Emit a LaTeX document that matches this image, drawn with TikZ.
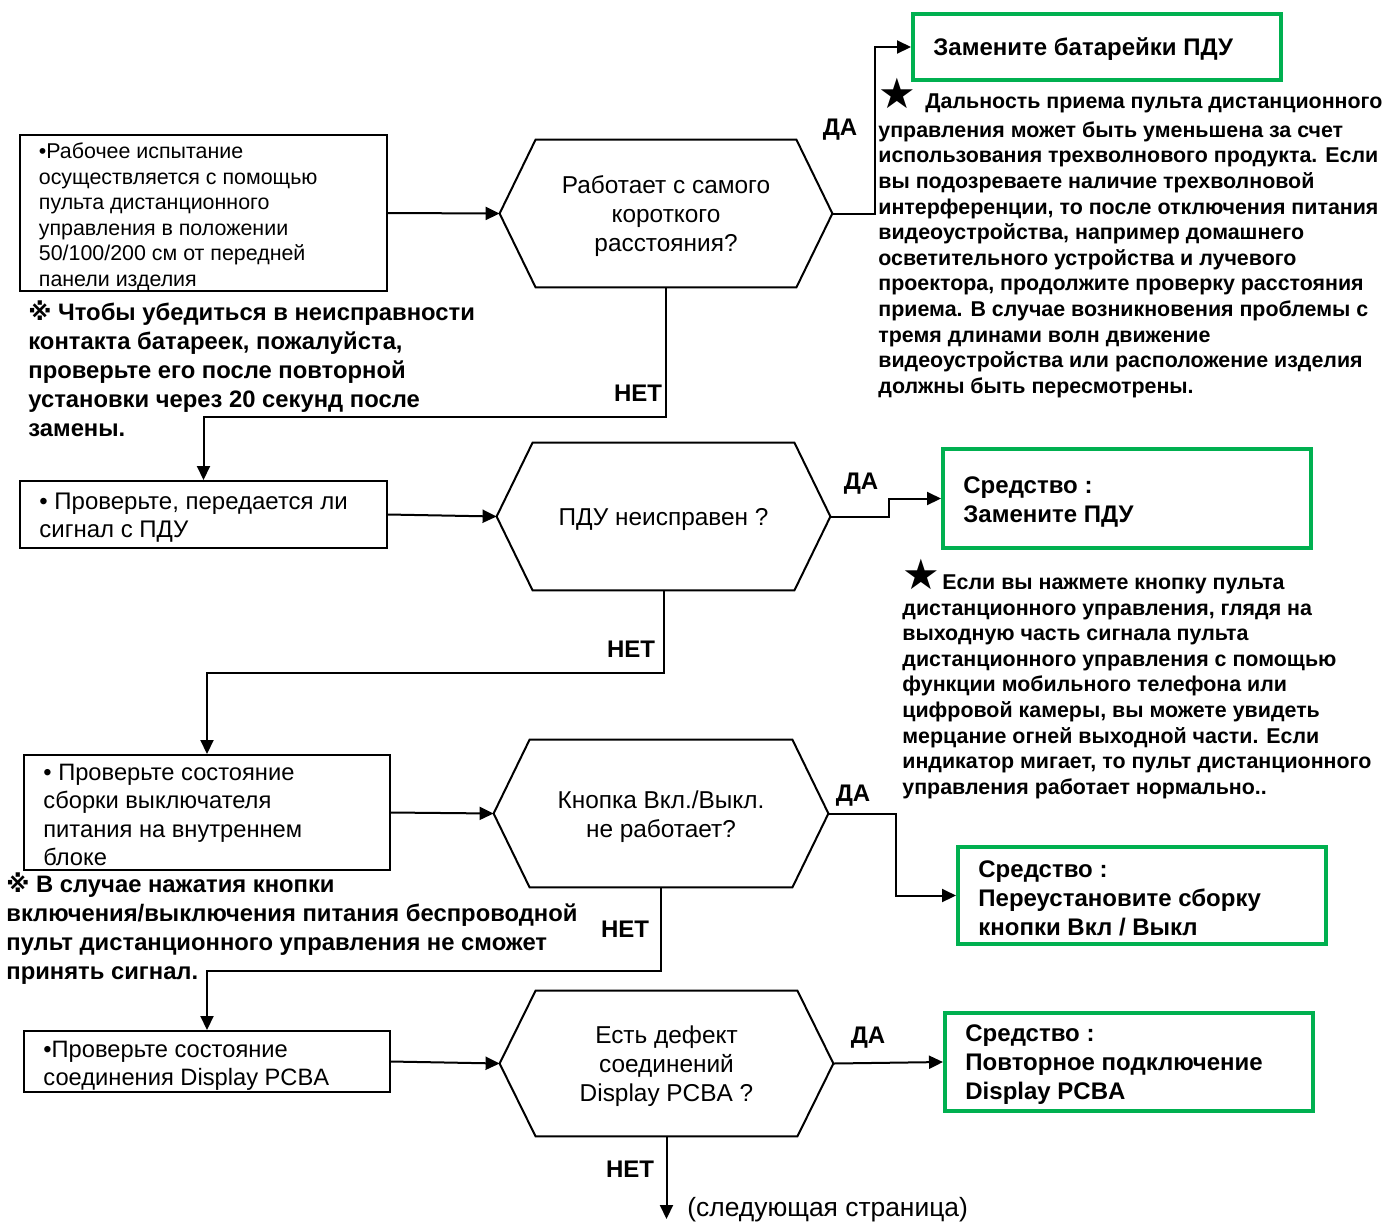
\documentclass[tikz,border=0pt]{standalone}
\usepackage{fontspec}
\setmainfont{Liberation Sans}
\newfontfamily\dejavu{DejaVu Sans}
\usetikzlibrary{arrows.meta,calc}
\definecolor{grn}{RGB}{0,176,80}
\newcommand{\hexpath}[1]{\draw[ln] (#1.west) -- ([xshift=18pt]#1.north west) -- ([xshift=-18pt]#1.north east) -- (#1.east) -- ([xshift=-18pt]#1.south east) -- ([xshift=18pt]#1.south west) -- cycle;}
\newcommand{\mystar}{{\dejavu\fontsize{21}{21}\selectfont ★}}
\newcommand{\komemark}{{\dejavu ※}}
\tikzset{
  ln/.style={line width=1pt, black, line join=miter},
  arr/.style={ln, -{Triangle[length=7pt,width=6.5pt]}},
  boxA/.style={draw, line width=1pt, inner sep=0pt},
  btxt/.style={inner sep=0pt, anchor=west, align=left},
  greenbox/.style={draw=grn, line width=2pt, inner sep=0pt, minimum width=184pt},
  gtxt/.style={inner sep=0pt, anchor=west, align=left, font=\bfseries\fontsize{12}{14.5}\selectfont},
  hexn/.style={inner sep=0pt},
  htxt/.style={inner sep=0pt, align=center, font=\fontsize{12.2}{14.5}\selectfont},
  lbl/.style={inner sep=0pt, font=\bfseries\fontsize{12}{14}\selectfont},
  bnote/.style={inner sep=0pt, align=left, anchor=west, font=\bfseries\fontsize{11.9}{14.5}\selectfont},
  snote/.style={inner sep=0pt, align=left, anchor=west, font=\bfseries\fontsize{10.7}{12.8}\selectfont},
}
\begin{document}
\begin{tikzpicture}[x=0.5pt,y=-0.5pt]
\useasboundingbox (0,0) rectangle (1386,1222);

% boxes
\node[boxA, minimum width=183.5pt, minimum height=78pt] (b1) at (203.5,213) {};
\node[btxt, font=\fontsize{10.7}{12.75}\selectfont] (b1t) at ($(b1.west)+(19.5,4)$) {•Рабочее испытание\\осуществляется с помощью\\пульта дистанционного\\управления в положении\\50/100/200 см от передней\\панели изделия};
\node[boxA, minimum width=183.5pt, minimum height=33.5pt] (b2) at (203.5,514.5) {};
\node[btxt, font=\fontsize{12}{14}\selectfont] (b2t) at ($(b2.west)+(20,3.5)$) {• Проверьте, передается ли\\сигнал с ПДУ};
\node[boxA, minimum width=183pt, minimum height=57.5pt] (b3) at (207,812.5) {};
\node[btxt, font=\fontsize{11.85}{14.3}\selectfont] (b3t) at ($(b3.west)+(20,2.5)$) {• Проверьте состояние\\сборки выключателя\\питания на внутреннем\\блоке};
\node[boxA, minimum width=183pt, minimum height=30.5pt] (b4) at (207,1061.5) {};
\node[btxt, font=\fontsize{11.85}{14}\selectfont] (b4t) at ($(b4.west)+(20,4)$) {•Проверьте состояние\\соединения Display PCBA};

% decisions
\node[hexn, minimum width=166pt, minimum height=73.5pt] (h1) at (666,213.5) {};
\node[htxt] (h1t) at ($(h1.center)+(0,3)$) {Работает с самого\\короткого\\расстояния?};
\node[hexn, minimum width=166.5pt, minimum height=73.5pt] (h2) at (663.5,516.5) {};
\node[htxt] (h2t) at ($(h2.center)+(0,3)$) {ПДУ неисправен ?};
\node[hexn, minimum width=167pt, minimum height=73.5pt] (h3) at (661,813.5) {};
\node[htxt] (h3t) at ($(h3.center)+(0,3)$) {Кнопка Вкл./Выкл.\\не работает?};
\node[hexn, minimum width=166.5pt, minimum height=72.5pt] (h4) at (666.5,1063.5) {};
\node[htxt] (h4t) at ($(h4.center)+(0,3)$) {Есть дефект\\соединений\\Display PCBA ?};
\hexpath{h1}
\hexpath{h2}
\hexpath{h3}
\hexpath{h4}

% remedies
\node[greenbox, minimum height=33pt] (g1) at (1097,47) {};
\node[gtxt] (g1t) at ($(g1.west)+(22,2)$) {Замените батарейки ПДУ};
\node[greenbox, minimum height=49.5pt] (g2) at (1127,498.5) {};
\node[gtxt] (g2t) at ($(g2.west)+(22,3)$) {Средство :\\Замените ПДУ};
\node[greenbox, minimum height=48.5pt] (g3) at (1142,895.5) {};
\node[gtxt] (g3t) at ($(g3.west)+(22,3)$) {Средство :\\Переустановите сборку\\кнопки Вкл / Выкл};
\node[greenbox, minimum height=49pt] (g4) at (1129,1062) {};
\node[gtxt] (g4t) at ($(g4.west)+(22,3)$) {Средство :\\Повторное подключение\\Display PCBA};

% notes
\node[bnote] (n1) at (28,369) {\komemark{} Чтобы убедиться в неисправности\\контакта батареек, пожалуйста,\\проверьте его после повторной\\установки через 20 секунд после\\замены.};
\node[bnote] (n3) at (6,928.5) {\komemark{} В случае нажатия кнопки\\включения/выключения питания беспроводной\\пульт дистанционного управления не сможет\\принять сигнал.};
\node[snote] (s1) at (878,238) {\makebox[23.5pt][l]{\mystar}Дальность приема пульта дистанционного\\[1.5pt]управления может быть уменьшена за счет\\использования трехволнового продукта. Если\\вы подозреваете наличие трехволновой\\интерференции, то после отключения питания\\видеоустройства, например домашнего\\осветительного устройства и лучевого\\проектора, продолжите проверку расстояния\\приема. В случае возникновения проблемы с\\тремя длинами волн движение\\видеоустройства или расположение изделия\\должны быть пересмотрены.};
\node[snote] (s2) at (902,679) {\makebox[20pt][l]{\mystar}Если вы нажмете кнопку пульта\\дистанционного управления, глядя на\\выходную часть сигнала пульта\\дистанционного управления с помощью\\функции мобильного телефона или\\цифровой камеры, вы можете увидеть\\мерцание огней выходной части. Если\\индикатор мигает, то пульт дистанционного\\управления работает нормально..};

% labels
\node[lbl] (y1) at (840,130) {ДА};
\node[lbl] (y2) at (861,484) {ДА};
\node[lbl] (y3) at (853,796) {ДА};
\node[lbl] (y4) at (868,1038) {ДА};
\node[lbl] (no1) at (638,393) {НЕТ};
\node[lbl] (no2) at (631,649) {НЕТ};
\node[lbl] (no3) at (625,929) {НЕТ};
\node[lbl] (no4) at (630,1169) {НЕТ};
\node[inner sep=0pt, anchor=west, font=\fontsize{13.2}{15}\selectfont] (next) at (687,1210) {(следующая страница)};
\coordinate (nx) at (666.5,1219);

% connectors
\draw[arr] (b1.east) -- (h1.west);
\draw[arr] (h1.east) -- ++(43,0) |- (g1.west);
\draw[arr] (h1.south) -- ++(0,130) -| (b2.north);
\draw[arr] (b2.east) -- (h2.west);
\draw[arr] (h2.east) -- ++(59,0) |- (g2.west);
\draw[arr] (h2.south) -- ++(0,83) -| (b3.north);
\draw[arr] (b3.east) -- (h3.west);
\draw[arr] (h3.east) -- ++(68,0) |- (g3.west);
\draw[arr] (h3.south) -- ++(0,84) -| (b4.north);
\draw[arr] (b4.east) -- (h4.west);
\draw[arr] (h4.east) -- (g4.west);
\draw[arr] (h4.south) -- (nx);
\end{tikzpicture}
\end{document}
